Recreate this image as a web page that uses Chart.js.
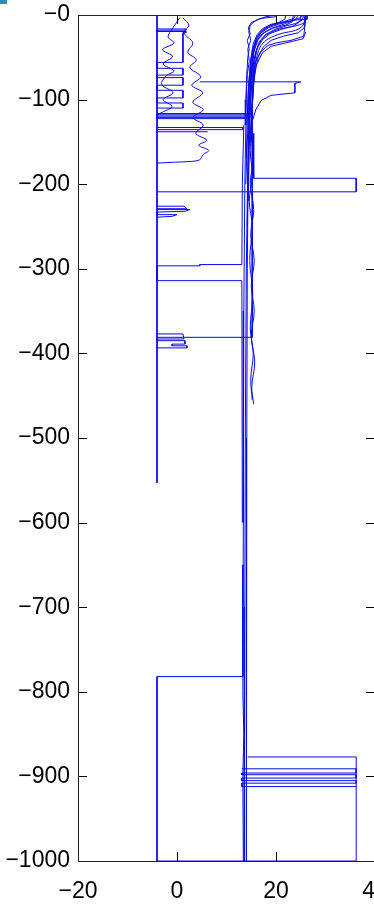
<!DOCTYPE html>
<html>
<head>
<meta charset="utf-8">
<script src="https://cdn.jsdelivr.net/npm/chart.js@4.4.1/dist/chart.umd.min.js"></script>
<style>
  html, body { margin: 0; padding: 0; background: #fff; overflow: hidden; }
  .wrap { position: relative; width: 380px; height: 912px; }
  .corner { position: absolute; left: 0; top: 0; width: 7px; height: 4px; background: #2b8fb3; }
</style>
</head>
<body>
<div class="wrap">
  <canvas id="chart" width="380" height="912"></canvas>
  <div class="corner"></div>
</div>
<script>
// each profile: [temperature, depth] pairs (depth plotted as negative y)
const xTickValues = [-20, 0, 20, 40]
const yTickValues = [-1000, -900, -800, -700, -600, -500, -400, -300, -200, -100, 0]

const warmA = [[25.5,0],[25,3],[23,7],[20.5,11],[18.5,15],[17,21],[16,30],[15.4,45],[15,70],[14.6,110],[14.3,180],[14,300],[13.8,500],[13.7,700],[13.6,1000]]
const warmB = [[24.5,0],[24,5],[22,10],[19.5,15],[17.6,21],[16.4,29],[15.6,42],[15.1,65],[14.7,100],[14.4,170],[14.2,300],[14.1,500],[14.05,800],[14,1000]]
const warmC = [[20,0],[18,2],[16,6],[14.8,12],[14.5,20],[14.9,30],[14.3,40],[14.6,55],[14.2,70],[14,100],[13.7,200],[13.5,350],[13.4,600],[13.3,800],[13.5,850],[13.3,900],[13.4,1000]]
const warmD = [[26.3,0],[26,6],[25.5,10],[23,14],[20,18],[18,24],[16.7,33],[16,45],[15.5,65],[15.2,95],[15,140],[15.4,170],[14.8,200],[15.5,230],[14.9,260],[15.6,290],[15,320],[15.6,350],[15,380],[15.7,410],[15.1,440],[15.5,460]]
const warmE = [[25.8,2],[25.5,12],[24,18],[21,22],[18.5,28],[17,36],[16.2,48],[15.6,70],[15.2,110],[14.8,160],[15.2,190],[14.6,220],[15.2,250],[14.7,290],[15.3,330],[14.8,370],[15.4,400],[14.9,430],[15.2,455]]
const warmF = [[25.9,0],[25.9,10],[25.6,25],[23,30],[20,33],[18.4,36],[16.8,44],[15.8,56],[15.4,75],[15.2,110],[15.2,200],[15.2,300],[15.2,381],[-4.04,381]]
const warmG = [[26,20],[25.5,28],[22,33],[19,37],[17.2,45],[16,60],[15.5,80],[15.1,120],[14.8,150]]
const warmH = [[20,2],[17,4],[15,9],[14.4,15],[14.8,22],[14.2,30],[14.6,40],[14.3,50],[14.1,70],[13.9,100],[13.8,130]]
const warmI = [[23.5,0],[23.3,8],[22,12],[19,16],[17.2,22],[16.1,31],[15.4,45],[14.9,70],[14.5,110],[14.2,150],[13.9,200]]
const warmJ = [[22,0],[21.8,5],[20.5,9],[18.5,13],[17,19],[16,27],[15.3,40],[14.8,60],[14.4,90],[14.1,130]]
const warmK = [[26.3,0],[26.3,5],[24,6],[21,9],[18.8,13],[17.2,19],[16.2,27],[15.5,38],[15,55],[14.6,85],[14.3,120]]
const warmL = [[25,0],[24.8,8],[23.5,13],[21,17],[18.8,22],[17.3,29],[16.3,38],[15.6,52],[15.1,80],[14.7,130],[14.4,220]]
const warmM = [[26,4],[25.7,15],[24.5,21],[21.5,25],[19,30],[17.4,38],[16.4,50],[15.7,68],[15.3,95],[14.9,140]]
const warmN = [[24,0],[23.6,4],[21.5,8],[19,11],[17.3,16],[16.2,23],[15.4,34],[14.9,52],[14.5,80],[14.2,120],[14,170]]
const warmO = [[25.6,0],[25.3,6],[24,10],[22,13],[19.8,17],[17.9,23],[16.7,31],[15.9,43],[15.3,62],[14.9,90],[14.5,140],[14.2,250]]

const leftEdge = [[-4.04,0],[-4.04,553]]
const shallowLadder = [[-4.04,16.5],[1.8,16.5],[1.8,18],[-4.04,18],[-4.04,19.5],[1.8,19.5],[1.8,21],[1.2,21],[1.2,56],[-4.04,56],[-4.04,63],[1.2,63],[1.2,71],[-4.04,71],[-4.04,74],[1.2,74],[1.2,83],[-4.04,83],[-4.04,89],[1.2,89],[1.2,98],[-4.04,98],[-4.04,104],[1.2,104],[1.2,110],[-4.04,110]]
const wiggleLeft = [[0.6,3],[-0.8,15],[-1.8,26],[-0.6,33],[-2.9,41],[-0.9,49],[-2.8,58],[-0.6,66],[-2.2,72],[-3.1,82],[-0.8,92],[-2.8,100],[-1,108],[-3,115],[-4.04,118]]
const wiggleRight = [[1.2,3.5],[2.4,12],[1.4,21],[3.2,33],[2.2,44],[3.9,53],[2.6,62],[4.8,73],[3,83],[5.2,92],[3.2,103],[5.3,112],[3.2,121],[5.3,130],[3.8,140],[6,148],[4.4,154],[6.4,160],[5.3,165],[4.6,171],[3,173],[-0.5,174],[-4.04,175]]
const shelf80 = [[4.6,79],[25,79],[23.8,81],[23.8,92],[19,95],[17,101],[15.9,112],[15.3,124]]
const thickRungs = [[-4.04,116.5],[14.8,116.5],[14.8,118],[-4.04,118],[-4.04,119.5],[14.7,119.5],[14.7,121],[-4.04,121],[-4.04,122.5],[14.6,122.5]]
const lowerRungs = [[-4.04,133],[13.3,133],[13.3,135.5],[-4.04,135.5],[-4.04,138],[6.2,138]]
const box200 = [[15.4,140],[15.5,193],[36.2,193],[36.2,209],[-4.04,209]]
const spikes230 = [[-4.04,226],[1.4,226],[2,229],[-4.04,229],[-4.04,230],[2.6,230],[1.6,232],[-4.04,233],[-4.04,236],[0,236],[-1,238],[-4.04,239]]
const rect300 = [[13.5,130],[13.2,200],[13.1,295],[4.6,295],[4.6,296.5],[-4.04,296.5],[-4.04,314],[13.1,314],[13.2,600]]
const spikes385 = [[-4.04,377],[1.2,377],[1.4,383],[-4.04,383],[-4.04,385],[1.6,385],[1.6,389],[-1,389],[-1,391],[2,391],[2,393.5],[-4.04,393.5]]
const deepBox = [[13.3,650],[13.3,782],[-4.04,782],[-4.04,1000],[36.2,1000],[36.2,877],[14.3,877]]
const deepLadder = [[13.1,891],[36.2,891],[36.2,896],[13.1,896],[13.1,898],[36.2,898],[36.2,902],[13.1,902],[13.1,905],[36.2,905],[36.2,908],[13.1,908],[13.1,912],[36.2,912]]

const profiles = [warmA, warmB, warmC, warmD, warmE, warmF, warmG, warmH, warmI, warmJ, warmK,
  warmL, warmM, warmN, warmO,
  leftEdge, shallowLadder, wiggleLeft, wiggleRight, shelf80, thickRungs, lowerRungs,
  box200, spikes230, rect300, spikes385, deepBox, deepLadder]
const wavy = [wiggleLeft, wiggleRight, warmD, warmE]

const lineColor = 'rgb(10, 10, 230)'
const fontSpec = { family: '"Liberation Sans", Arial, sans-serif', size: 23 }
const minus = (v) => (v < 0 ? '\u2212' + Math.abs(v) : String(v))

const innerTicks = {
  id: 'innerTicks',
  afterDatasetsDraw(chart) {
    const { ctx, chartArea: a, scales } = chart
    const len = 9
    ctx.save()
    ctx.strokeStyle = '#000'
    ctx.lineWidth = 1
    ctx.beginPath()
    xTickValues.forEach((v) => {
      const x = Math.round(scales.x.getPixelForValue(v)) + 0.5
      ctx.moveTo(x, a.bottom); ctx.lineTo(x, a.bottom - len)
      ctx.moveTo(x, a.top); ctx.lineTo(x, a.top + len)
    })
    yTickValues.forEach((v) => {
      const y = Math.round(scales.y.getPixelForValue(v)) + 0.5
      ctx.moveTo(a.left, y); ctx.lineTo(a.left + len, y)
      ctx.moveTo(a.right, y); ctx.lineTo(a.right - len, y)
    })
    ctx.stroke()
    ctx.strokeStyle = '#222'
    ctx.strokeRect(Math.round(a.left) + 0.5, Math.round(a.top) + 0.5,
      Math.round(a.right - a.left), Math.round(a.bottom - a.top))
    ctx.restore()
  },
}

new Chart(document.getElementById('chart'), {
  type: 'scatter',
  data: {
    datasets: profiles.map((p) => ({
      data: p.map(([t, d]) => ({ x: t, y: -d })),
      showLine: true,
      borderColor: lineColor,
      borderWidth: 1,
      pointRadius: 0,
      tension: wavy.includes(p) ? 0.35 : 0,
    })),
  },
  options: {
    responsive: false,
    animation: false,
    devicePixelRatio: 1,
    layout: { padding: { top: 15, right: 5, left: 0, bottom: 0 } },
    plugins: { legend: { display: false }, tooltip: { enabled: false } },
    scales: {
      x: {
        type: 'linear',
        min: -20,
        max: 40,
        afterBuildTicks: (s) => { s.ticks = xTickValues.map((v) => ({ value: v })) },
        afterFit: (s) => { s.height = 51; s.paddingLeft = 0; s.paddingRight = 0 },
        ticks: { color: '#000', font: fontSpec, padding: 17, maxRotation: 0, callback: minus },
        grid: { drawOnChartArea: false, drawTicks: false },
        border: { display: false },
      },
      y: {
        type: 'linear',
        min: -1000,
        max: 0,
        afterBuildTicks: (s) => { s.ticks = yTickValues.map((v) => ({ value: v })) },
        afterFit: (s) => { s.width = 78; s.paddingTop = 0; s.paddingBottom = 0 },
        ticks: { color: '#000', font: fontSpec, padding: 8, callback: (v) => '\u2212' + Math.abs(v) },
        grid: { drawOnChartArea: false, drawTicks: false },
        border: { display: false },
      },
    },
  },
  plugins: [innerTicks],
})
</script>
</body>
</html>
